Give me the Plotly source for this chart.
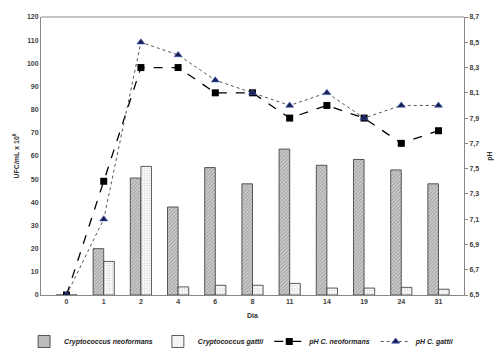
import plotly.graph_objects as go

dias = ["0", "1", "2", "4", "6", "8", "11", "14", "19", "24", "31"]
ufc_neoformans = [0, 20, 50.5, 38, 55, 48, 63, 56, 58.5, 54, 48]
ufc_gattii = [0, 14.5, 55.5, 3.5, 4.2, 4.2, 5, 3, 3, 3.3, 2.5]
ph_neoformans = [6.5, 7.4, 8.3, 8.3, 8.1, 8.1, 7.9, 8.0, 7.9, 7.7, 7.8]
ph_gattii = [6.5, 7.1, 8.5, 8.4, 8.2, 8.1, 8.0, 8.1, 7.9, 8.0, 8.0]

left_ticks = list(range(0, 121, 10))
right_ticks = [6.5, 6.7, 6.9, 7.1, 7.3, 7.5, 7.7, 7.9, 8.1, 8.3, 8.5, 8.7]
right_labels = [f"{v:.1f}".replace(".", ",") for v in right_ticks]

font_fam = "Liberation Sans"
tick_font = dict(family=font_fam, size=7, color="#404040", weight="bold")

fig = go.Figure()
fig.add_trace(go.Bar(
    x=dias, y=ufc_neoformans, name="<b><i>Cryptococcus neoformans</i></b>",
    marker=dict(color="white", line=dict(color="#333333", width=0.8),
                pattern=dict(shape="/", fgcolor="#666666", bgcolor="#d8d8d8", size=2.5, solidity=0.5)),
))
fig.add_trace(go.Bar(
    x=dias, y=ufc_gattii, name="<b><i>Cryptococcus gattii</i></b>",
    marker=dict(color="white", line=dict(color="#333333", width=0.8),
                pattern=dict(shape=".", fgcolor="#999999", bgcolor="white", size=2.5, solidity=0.3)),
))
fig.add_trace(go.Scatter(
    x=dias, y=ph_neoformans, yaxis="y2", name="<b><i>pH C. neoformans</i></b>",
    mode="lines+markers",
    line=dict(color="black", width=1.3, dash="dash"),
    marker=dict(symbol="square", size=7, color="black"),
))
fig.add_trace(go.Scatter(
    x=dias, y=ph_gattii, yaxis="y2", name="<b><i>pH C. gattii</i></b>",
    mode="lines+markers",
    line=dict(color="#555555", width=1, dash="dot"),
    marker=dict(symbol="triangle-up", size=7, color="#1a2050", line=dict(color="#4060c0", width=0.6)),
))

fig.update_layout(
    width=503, height=356,
    margin=dict(l=41, r=39, t=17, b=61, autoexpand=False),
    paper_bgcolor="white", plot_bgcolor="white",
    barmode="group", bargap=0.43, bargroupgap=0,
    font=dict(family=font_fam, size=7, color="#404040"),
    showlegend=True,
    legend=dict(orientation="h", x=-0.04, xanchor="left", y=-0.115, yanchor="top",
                font=dict(family=font_fam, size=7, color="#222222"),
                itemwidth=30, tracegroupgap=0),
    xaxis=dict(type="category", tickfont=tick_font, showline=True, linecolor="#888888",
               ticks="", showgrid=False, mirror=False, automargin=False,
               title=dict(text="<b>Dia</b>", font=dict(family=font_fam, size=7, color="#333333"), standoff=8)),
    yaxis=dict(range=[0, 120], tickvals=left_ticks, tickfont=tick_font, showgrid=False,
               showline=True, linecolor="#888888", ticks="", zeroline=False, automargin=False,
               title=dict(text="<b>UFC/mL x 10<sup>6</sup></b>", font=dict(family=font_fam, size=7, color="#333333"), standoff=6)),
    yaxis2=dict(range=[6.5, 8.7], tickvals=right_ticks, ticktext=right_labels, tickfont=tick_font,
                overlaying="y", side="right", showgrid=False, showline=True, linecolor="#888888",
                ticks="outside", ticklen=3, tickcolor="#888888", zeroline=False, automargin=False,
                title=dict(text="<b>pH</b>", font=dict(family=font_fam, size=7, color="#333333"), standoff=8)),
    shapes=[dict(type="line", xref="paper", yref="paper", x0=0, x1=1, y0=1, y1=1,
                 line=dict(color="#888888", width=1))],
)

fig.write_html("out.html", config={"displayModeBar": False},
               post_script="document.body.style.margin='0px';")
